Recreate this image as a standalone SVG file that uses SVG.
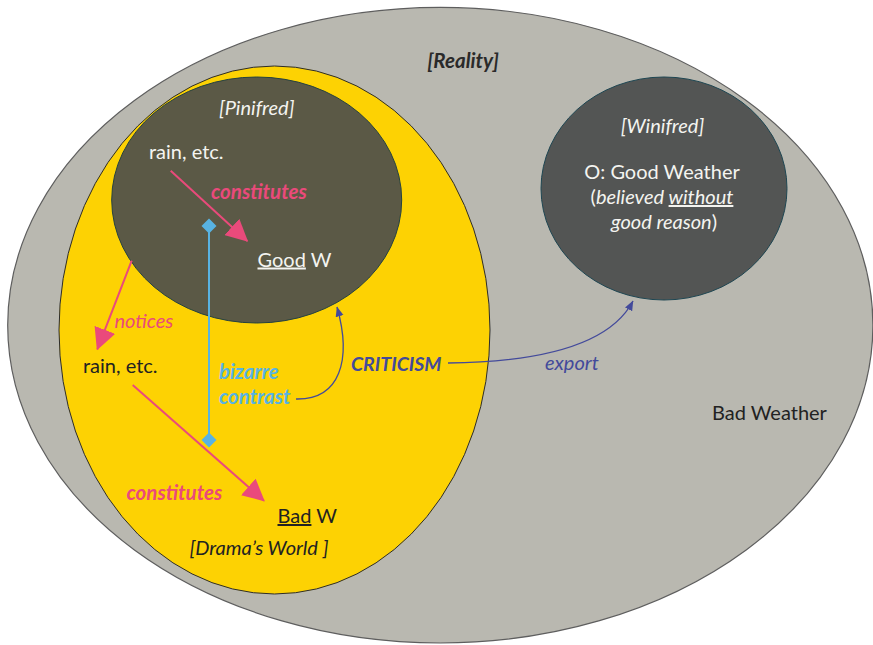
<svg xmlns="http://www.w3.org/2000/svg" width="873" height="645" viewBox="0 0 873 645">
  <style>
    text { font-family: Lato, "Open Sans", "Liberation Sans", sans-serif; font-size: 20px; }
    .it { font-style: italic; }
    .bi { font-style: italic; font-weight: bold; font-size: 20.5px; }
    .light { fill: #f4f4f0; }
    .dark { fill: #222222; }
    .pink { fill: #ea4a7b; }
    .blue { fill: #58b3e3; }
    .navy { fill: #434a9b; }
    .u { text-decoration: underline; }
    .pinkline { stroke: #ea4a7b; stroke-width: 2; fill: none; }
    .navyline { stroke: #434a9b; stroke-width: 1.3; fill: none; }
    .blueline { stroke: #58b3e3; stroke-width: 2; fill: none; }
  </style>
  <defs>
    <marker id="pinkHead" markerUnits="userSpaceOnUse" markerWidth="22" markerHeight="22" viewBox="0 0 20 20" refX="19" refY="10" orient="auto">
      <path d="M0,0 L20,10 L0,20 z" fill="#ea4a7b"/>
    </marker>
    <marker id="navyHead" markerUnits="userSpaceOnUse" markerWidth="10" markerHeight="10" viewBox="0 0 10 10" refX="9.5" refY="5" orient="auto">
      <path d="M0,1 L10,5 L0,9 z" fill="#434a9b"/>
    </marker>
    <marker id="diamond" markerUnits="userSpaceOnUse" markerWidth="16" markerHeight="16" viewBox="0 0 16 16" refX="8" refY="8" orient="0">
      <path d="M8,0.5 L15.5,8 L8,15.5 L0.5,8 z" fill="#58b3e3"/>
    </marker>
  </defs>

  <!-- Reality: the outer world -->
  <g id="reality">
    <ellipse cx="440.3" cy="325.2" rx="432.6" ry="317.8" fill="#b9b8b0" stroke="#5e5e5e" stroke-width="1.2"/>
    <text x="463" y="68" class="bi" fill="#2a2a2a" text-anchor="middle">[Reality]</text>
    <text x="712" y="420" class="dark">Bad Weather</text>
  </g>

  <!-- Drama's World -->
  <g id="drama-world">
    <ellipse cx="274.5" cy="330" rx="215.5" ry="264" fill="#fdd203" stroke="#2c2c2c" stroke-width="1"/>
    <text x="83" y="373" class="dark">rain, etc.</text>
    <text x="277.5" y="523" class="dark"><tspan class="u">Bad</tspan> W</text>
    <text x="189.5" y="555" class="it dark">[Drama’s World ]</text>
  </g>

  <!-- Pinifred -->
  <g id="pinifred">
    <ellipse cx="256.7" cy="200" rx="145" ry="123" fill="#5b5946" stroke="#26423f" stroke-width="1"/>
    <text x="256.7" y="115" class="it light" text-anchor="middle">[Pinifred]</text>
    <text x="149" y="159" class="light">rain, etc.</text>
    <text x="257.5" y="266.5" class="light"><tspan class="u">Good</tspan> W</text>
  </g>

  <!-- Winifred -->
  <g id="winifred">
    <ellipse cx="664" cy="188.5" rx="123" ry="111.5" fill="#535554" stroke="#1e4652" stroke-width="1"/>
    <text x="662.5" y="132.5" class="it light" text-anchor="middle">[Winifred]</text>
    <text x="662" y="178.5" class="light" text-anchor="middle">O: Good Weather</text>
    <text x="662" y="204" class="light" text-anchor="middle">(<tspan class="it">believed <tspan class="u">without</tspan></tspan></text>
    <text x="664" y="229" class="light" text-anchor="middle"><tspan class="it">good reason</tspan>)</text>
  </g>

  <!-- relations between the worlds -->
  <g id="connectors">
    <line x1="170.7" y1="170.7" x2="247.3" y2="241" class="pinkline" marker-end="url(#pinkHead)"/>
    <line x1="131.7" y1="260.7" x2="97.3" y2="349.3" class="pinkline" marker-end="url(#pinkHead)"/>
    <line x1="132.7" y1="385" x2="264" y2="500.7" class="pinkline" marker-end="url(#pinkHead)"/>
    <line x1="209" y1="226" x2="209" y2="440" class="blueline" marker-start="url(#diamond)" marker-end="url(#diamond)"/>
    <path d="M296,399 C340,400 352,360 337,307" class="navyline" marker-end="url(#navyHead)"/>
    <path d="M448,363 C540,362 610,345 633,301" class="navyline" marker-end="url(#navyHead)"/>

    <text x="211" y="199.3" class="bi pink">constitutes</text>
    <text x="114.5" y="327.5" class="it pink">notices</text>
    <text x="126.5" y="500" class="bi pink">constitutes</text>
    <text x="219" y="378.5" class="bi blue">bizarre</text>
    <text x="219" y="404" class="bi blue">contrast</text>
    <text x="351" y="370.7" class="bi navy" style="font-size:19.5px">CRITICISM</text>
    <text x="545" y="370" class="it navy">export</text>
  </g>
</svg>
